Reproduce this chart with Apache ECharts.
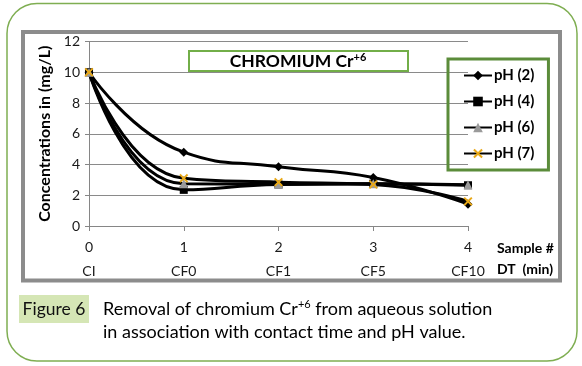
<!DOCTYPE html>
<html><head><meta charset="utf-8">
<script src="https://cdn.jsdelivr.net/npm/echarts@6/dist/echarts.min.js"></script>
<style>html,body{margin:0;padding:0;background:#fff}#c{width:582px;height:366px}</style>
</head><body><div id="c"></div>
<script>
const sampleNums = ['0','1','2','3','4'];
const sampleNames = ['CI','CF0','CF1','CF5','CF10'];
const seriesNames = ['pH (2)','pH (4)','pH (6)','pH (7)'];
const ph2 = [10, 4.8, 3.85, 3.15, 1.42];
const ph4 = [10, 2.35, 2.7, 2.75, 2.65];
const ph6 = [10, 2.75, 2.72, 2.75, 2.68];
const ph7 = [10, 3.1, 2.85, 2.7, 1.6];
const yTicks = [0, 2, 4, 6, 8, 10, 12];

const FONT = 'Lato';
const xPath = 'path://M0,1.5L1.5,0L5,3.5L8.5,0L10,1.5L6.5,5L10,8.5L8.5,10L5,6.5L1.5,10L0,8.5L3.5,5Z';
function mk(name, data, symbol, size, color) {
  return {
    name, type: 'line', data, smooth: 0.5,
    symbol, symbolSize: size,
    lineStyle: { color: '#000', width: 3 },
    itemStyle: { color: color, borderWidth: 0 },
    z: 3
  };
}
const chart = echarts.init(document.getElementById('c'), null, { renderer: 'canvas' });
chart.setOption({
  animation: false,
  textStyle: { fontFamily: FONT },
  grid: { left: 89, right: 114, top: 41.5, bottom: 140 },
  xAxis: {
    type: 'category', boundaryGap: false, data: sampleNums,
    axisLine: { lineStyle: { color: '#868686', width: 1 } },
    axisTick: { show: true, length: 5, lineStyle: { color: '#868686' } },
    axisLabel: {
      color: '#1a1a1a', fontSize: 14, fontFamily: FONT, margin: 9, lineHeight: 24,
      formatter: (v, i) => v + '\n' + sampleNames[i]
    }
  },
  yAxis: {
    type: 'value', min: 0, max: 12, interval: 2,
    name: 'Concentrations in (mg/L)', nameLocation: 'middle', nameGap: 35,
    nameTextStyle: { fontSize: 16, fontWeight: 'bold', color: '#000', fontFamily: FONT },
    axisLine: { show: true, lineStyle: { color: '#868686', width: 1 } },
    axisTick: { show: true, length: 4, lineStyle: { color: '#868686' } },
    splitLine: { lineStyle: { color: '#8a8a8a', width: 1 } },
    axisLabel: { color: '#1a1a1a', fontSize: 14, fontFamily: FONT, margin: 9,
      formatter: v => yTicks.includes(v) ? String(v) : '' }
  },
  legend: {
    orient: 'vertical', left: 448, top: 59,
    data: seriesNames,
    itemWidth: 28, itemHeight: 12, itemGap: 11,
    padding: [9, 14, 9, 15],
    borderColor: '#5b8c3a', borderWidth: 3,
    textStyle: { fontSize: 15, fontWeight: 'bold', color: '#000', fontFamily: FONT, padding: [0, 0, 0, -3] }
  },
  series: [
    mk(seriesNames[0], ph2, 'diamond', 9, '#000'),
    mk(seriesNames[1], ph4, 'rect', 8, '#000'),
    mk(seriesNames[2], ph6, 'triangle', 9, '#9a9a9a'),
    mk(seriesNames[3], ph7, xPath, 9, '#e8a817')
  ],
  graphic: [
    { type: 'rect', shape: { x: 7, y: 3.5, width: 570, height: 357.5, r: 30 },
      style: { fill: 'none', stroke: '#7fae52', lineWidth: 1.5 }, z: 0 },
    { type: 'rect', shape: { x: 23, y: 32, width: 537, height: 248.5 },
      style: { fill: 'none', stroke: '#8c8c8c', lineWidth: 4 }, z: 0 },
    { type: 'rect', shape: { x: 189, y: 51, width: 219, height: 20 },
      style: { fill: '#fff', stroke: '#72ae48', lineWidth: 2 }, z: 10 },
    { type: 'text', x: 298, y: 61, z: 11,
      style: { text: '{a|CHROMIUM Cr}{s|+6}', align: 'center', verticalAlign: 'middle',
        rich: { a: { fontSize: 17.5, fontWeight: 'bold', fill: '#000', fontFamily: FONT, verticalAlign: 'bottom' },
                s: { fontSize: 11, fontWeight: 'bold', fill: '#000', fontFamily: FONT, verticalAlign: 'top', padding: [0,0,7,0] } } } },
    { type: 'text', x: 497, y: 248, z: 11,
      style: { text: 'Sample #', fontSize: 14, fontWeight: 'bold', fill: '#000', fontFamily: FONT, verticalAlign: 'middle' } },
    { type: 'text', x: 497, y: 269, z: 11,
      style: { text: 'DT  (min)', fontSize: 14, fontWeight: 'bold', fill: '#000', fontFamily: FONT, verticalAlign: 'middle' } },
    { type: 'rect', shape: { x: 19, y: 295, width: 70, height: 28 },
      style: { fill: '#d5e6b5' }, z: 10 },
    { type: 'text', x: 54, y: 309.5, z: 11,
      style: { text: 'Figure 6', fontSize: 17.5, fontWeight: 'normal', fill: '#111', fontFamily: FONT, align: 'center', verticalAlign: 'middle' } },
    { type: 'text', x: 103, y: 309, z: 11,
      style: { text: '{a|Removal of chromium Cr}{s|+6}{a| from aqueous solution}', verticalAlign: 'middle',
        rich: { a: { fontSize: 18, fill: '#000', fontFamily: FONT },
                s: { fontSize: 11, fill: '#000', fontFamily: FONT, padding: [0,0,9,0] } } } },
    { type: 'text', x: 103, y: 332, z: 11,
      style: { text: 'in association with contact time and pH value.', fontSize: 18, fill: '#000', fontFamily: FONT, verticalAlign: 'middle' } }
  ]
});
</script></body></html>
